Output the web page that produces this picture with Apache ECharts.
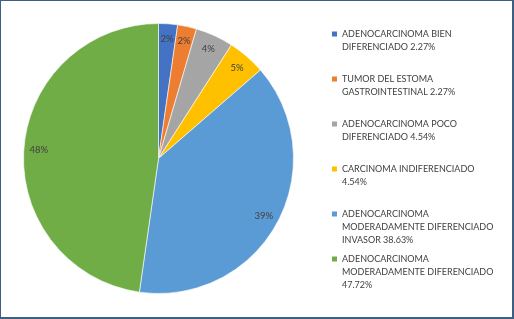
<!DOCTYPE html>
<html>
<head>
<meta charset="utf-8">
<script src="https://cdn.jsdelivr.net/npm/echarts@6/dist/echarts.min.js"></script>
<style>
  html, body { margin: 0; padding: 0; background: #fff; }
  #chart { width: 514px; height: 319px; box-sizing: border-box; border: 1px solid #3e5f82; border-right-width: 2px; border-bottom-width: 2px; }
</style>
</head>
<body>
<div id="chart"></div>
<script>
  // datos del grafico
  var categories = [
    'ADENOCARCINOMA BIEN DIFERENCIADO 2.27%',
    'TUMOR DEL ESTOMA GASTROINTESTINAL 2.27%',
    'ADENOCARCINOMA POCO DIFERENCIADO 4.54%',
    'CARCINOMA INDIFERENCIADO 4.54%',
    'ADENOCARCINOMA MODERADAMENTE DIFERENCIADO INVASOR 38.63%',
    'ADENOCARCINOMA MODERADAMENTE DIFERENCIADO 47.72%'
  ];
  var legendText = [
    'ADENOCARCINOMA BIEN\nDIFERENCIADO 2.27%',
    'TUMOR DEL ESTOMA\nGASTROINTESTINAL 2.27%',
    'ADENOCARCINOMA POCO\nDIFERENCIADO 4.54%',
    'CARCINOMA INDIFERENCIADO\n4.54%',
    'ADENOCARCINOMA\nMODERADAMENTE DIFERENCIADO\nINVASOR 38.63%',
    'ADENOCARCINOMA\nMODERADAMENTE DIFERENCIADO\n47.72%'
  ];
  var values = [2.27, 2.27, 4.54, 4.54, 38.63, 47.72];
  var sliceLabels = ['2%', '2%', '4%', '5%', '39%', '48%'];
  var colors = ['#4472c4', '#ed7d31', '#a5a5a5', '#ffc000', '#5b9bd5', '#70ad47'];

  var font = 'Lato';
  var lineH = 13;

  var pieData = categories.map(function (c, i) {
    return { name: c, value: values[i] };
  });

  // una leyenda por elemento; el icono es tan alto como el texto
  // y el cuadrito queda arriba, a la altura de la primera linea
  var legends = categories.map(function (c, i) {
    var n = legendText[i].split('\n').length;
    var h = n * lineH;
    var firstLine = 33 + i * 45;
    return {
      orient: 'vertical',
      left: 331,
      top: firstLine - lineH / 2,
      padding: 0,
      icon: 'path://M0,4h5v5h-5zM0,0M5,' + h,
      itemWidth: 5,
      itemHeight: h,
      itemStyle: { borderWidth: 0 },
      selectedMode: false,
      data: [c],
      formatter: function () { return legendText[i]; },
      textStyle: { fontFamily: font, fontSize: 9, color: '#404040', lineHeight: lineH }
    };
  });

  var chart = echarts.init(document.getElementById('chart'));
  chart.setOption({
    color: colors,
    animation: false,
    legend: legends,
    series: [
      {
        type: 'pie',
        center: [157.5, 157.5],
        radius: 135,
        startAngle: 90,
        label: { show: false },
        labelLine: { show: false },
        itemStyle: { borderColor: '#fff', borderWidth: 0.6 },
        emphasis: { disabled: true },
        data: pieData
      },
      {
        // capa transparente solo para ubicar las etiquetas cerca del borde
        type: 'pie',
        center: [157.5, 157.5],
        radius: [102, 132],
        startAngle: 90,
        silent: true,
        itemStyle: { color: 'rgba(0,0,0,0)' },
        emphasis: { disabled: true },
        label: {
          show: true,
          position: 'inside',
          fontFamily: font,
          fontSize: 9.5,
          color: '#404040',
          formatter: function (p) { return sliceLabels[p.dataIndex]; }
        },
        labelLine: { show: false },
        data: pieData
      }
    ]
  });
</script>
</body>
</html>
